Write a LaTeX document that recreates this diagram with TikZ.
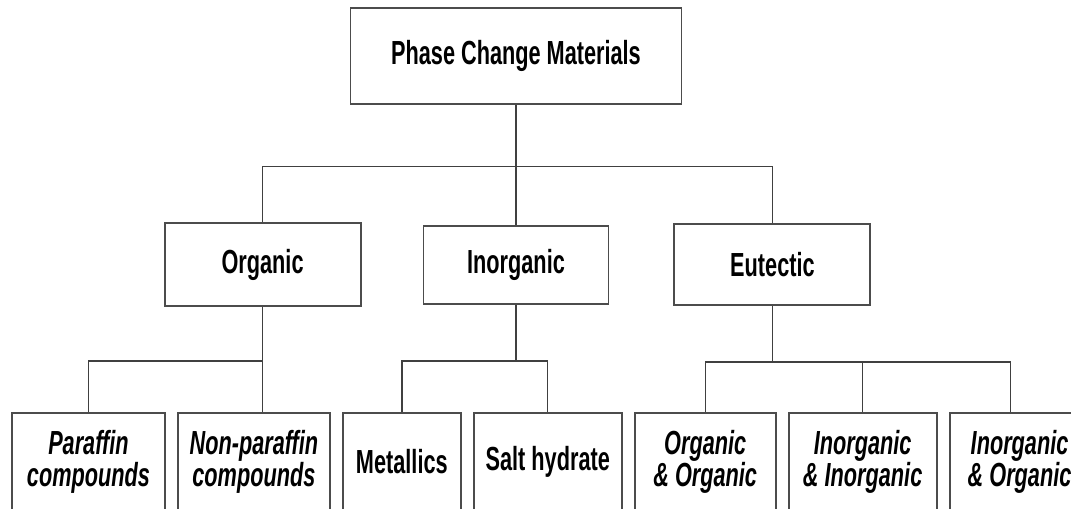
\documentclass[tikz,border=0pt]{standalone}
\usepackage{fontspec}
\usetikzlibrary{positioning}
\newfontfamily\boxfont[FakeStretch=0.65]{Liberation Sans}
\newcommand\labelfont{\boxfont\bfseries\fontsize{19}{18.6}\selectfont}

\begin{document}
\begin{tikzpicture}[node distance=1cm,
  box/.style={draw=black!70, line width=1.1pt, rectangle, align=center, font=\labelfont},
  leaf/.style={box, minimum width=#1, minimum height=1.96cm},
  slant/.style={font=\labelfont\itshape},
  link/.style={draw=black!75, line width=0.8pt}]
\useasboundingbox (0,0) rectangle (21.42,-10.16);
\node  (1)[box, minimum width=6.62cm, minimum height=1.92cm] at (10.32,-1.12) {Phase Change Materials};
\node  (3)[box, minimum width=3.7cm, minimum height=1.56cm] [below=2.4cm of 1] {Inorganic};
\node  (2)[box, minimum width=3.92cm, minimum height=1.66cm] [left=1.22cm of 3] {Organic};
\node  (4)[box, minimum width=3.92cm, minimum height=1.62cm] [right=1.28cm of 3] {Eutectic};
\node  (5)[leaf=3.06cm, slant, anchor=north west] at (0.22,-8.24) {Paraffin\\compounds};
\node  (6)[leaf=3.04cm, slant] [right=0.22cm of 5] {Non-paraffin\\compounds};
\node  (7)[leaf=2.36cm] [right=0.22cm of 6] {Metallics};
\node  (8)[leaf=2.96cm] [right=0.22cm of 7] {Salt hydrate};
\node  (9)[leaf=2.82cm, slant] [right=0.22cm of 8] {Organic\\\& Organic};
\node  (10)[leaf=2.96cm, slant] [right=0.22cm of 9] {Inorganic\\\& Inorganic};
\node  (11)[leaf=2.8cm, slant] [right=0.22cm of 10] {Inorganic\\\& Organic};
% first level
\draw[link] (3.north) -- (3.north |- 1.south);
\draw[link] (2.north) -- ++(0,1.12) -| (4.north);
% organic
\draw[link] (5.north) -- ++(0,1.02) -| (2.south);
\draw[link] (2.south) -- (2.south |- 6.north);
% inorganic
\draw[link] (7.north) -- ++(0,1.02) coordinate (b) -| (8.north);
\draw[link] (3.south) -- (3.south |- b);
% eutectic
\draw[link] (9.north) -- ++(0,1.0) coordinate (c) -| ([xshift=-0.18cm]11.north);
\draw[link] (10.north) -- (10.north |- c);
\draw[link] (4.south) -- (4.south |- c);
\end{tikzpicture}
\end{document}
